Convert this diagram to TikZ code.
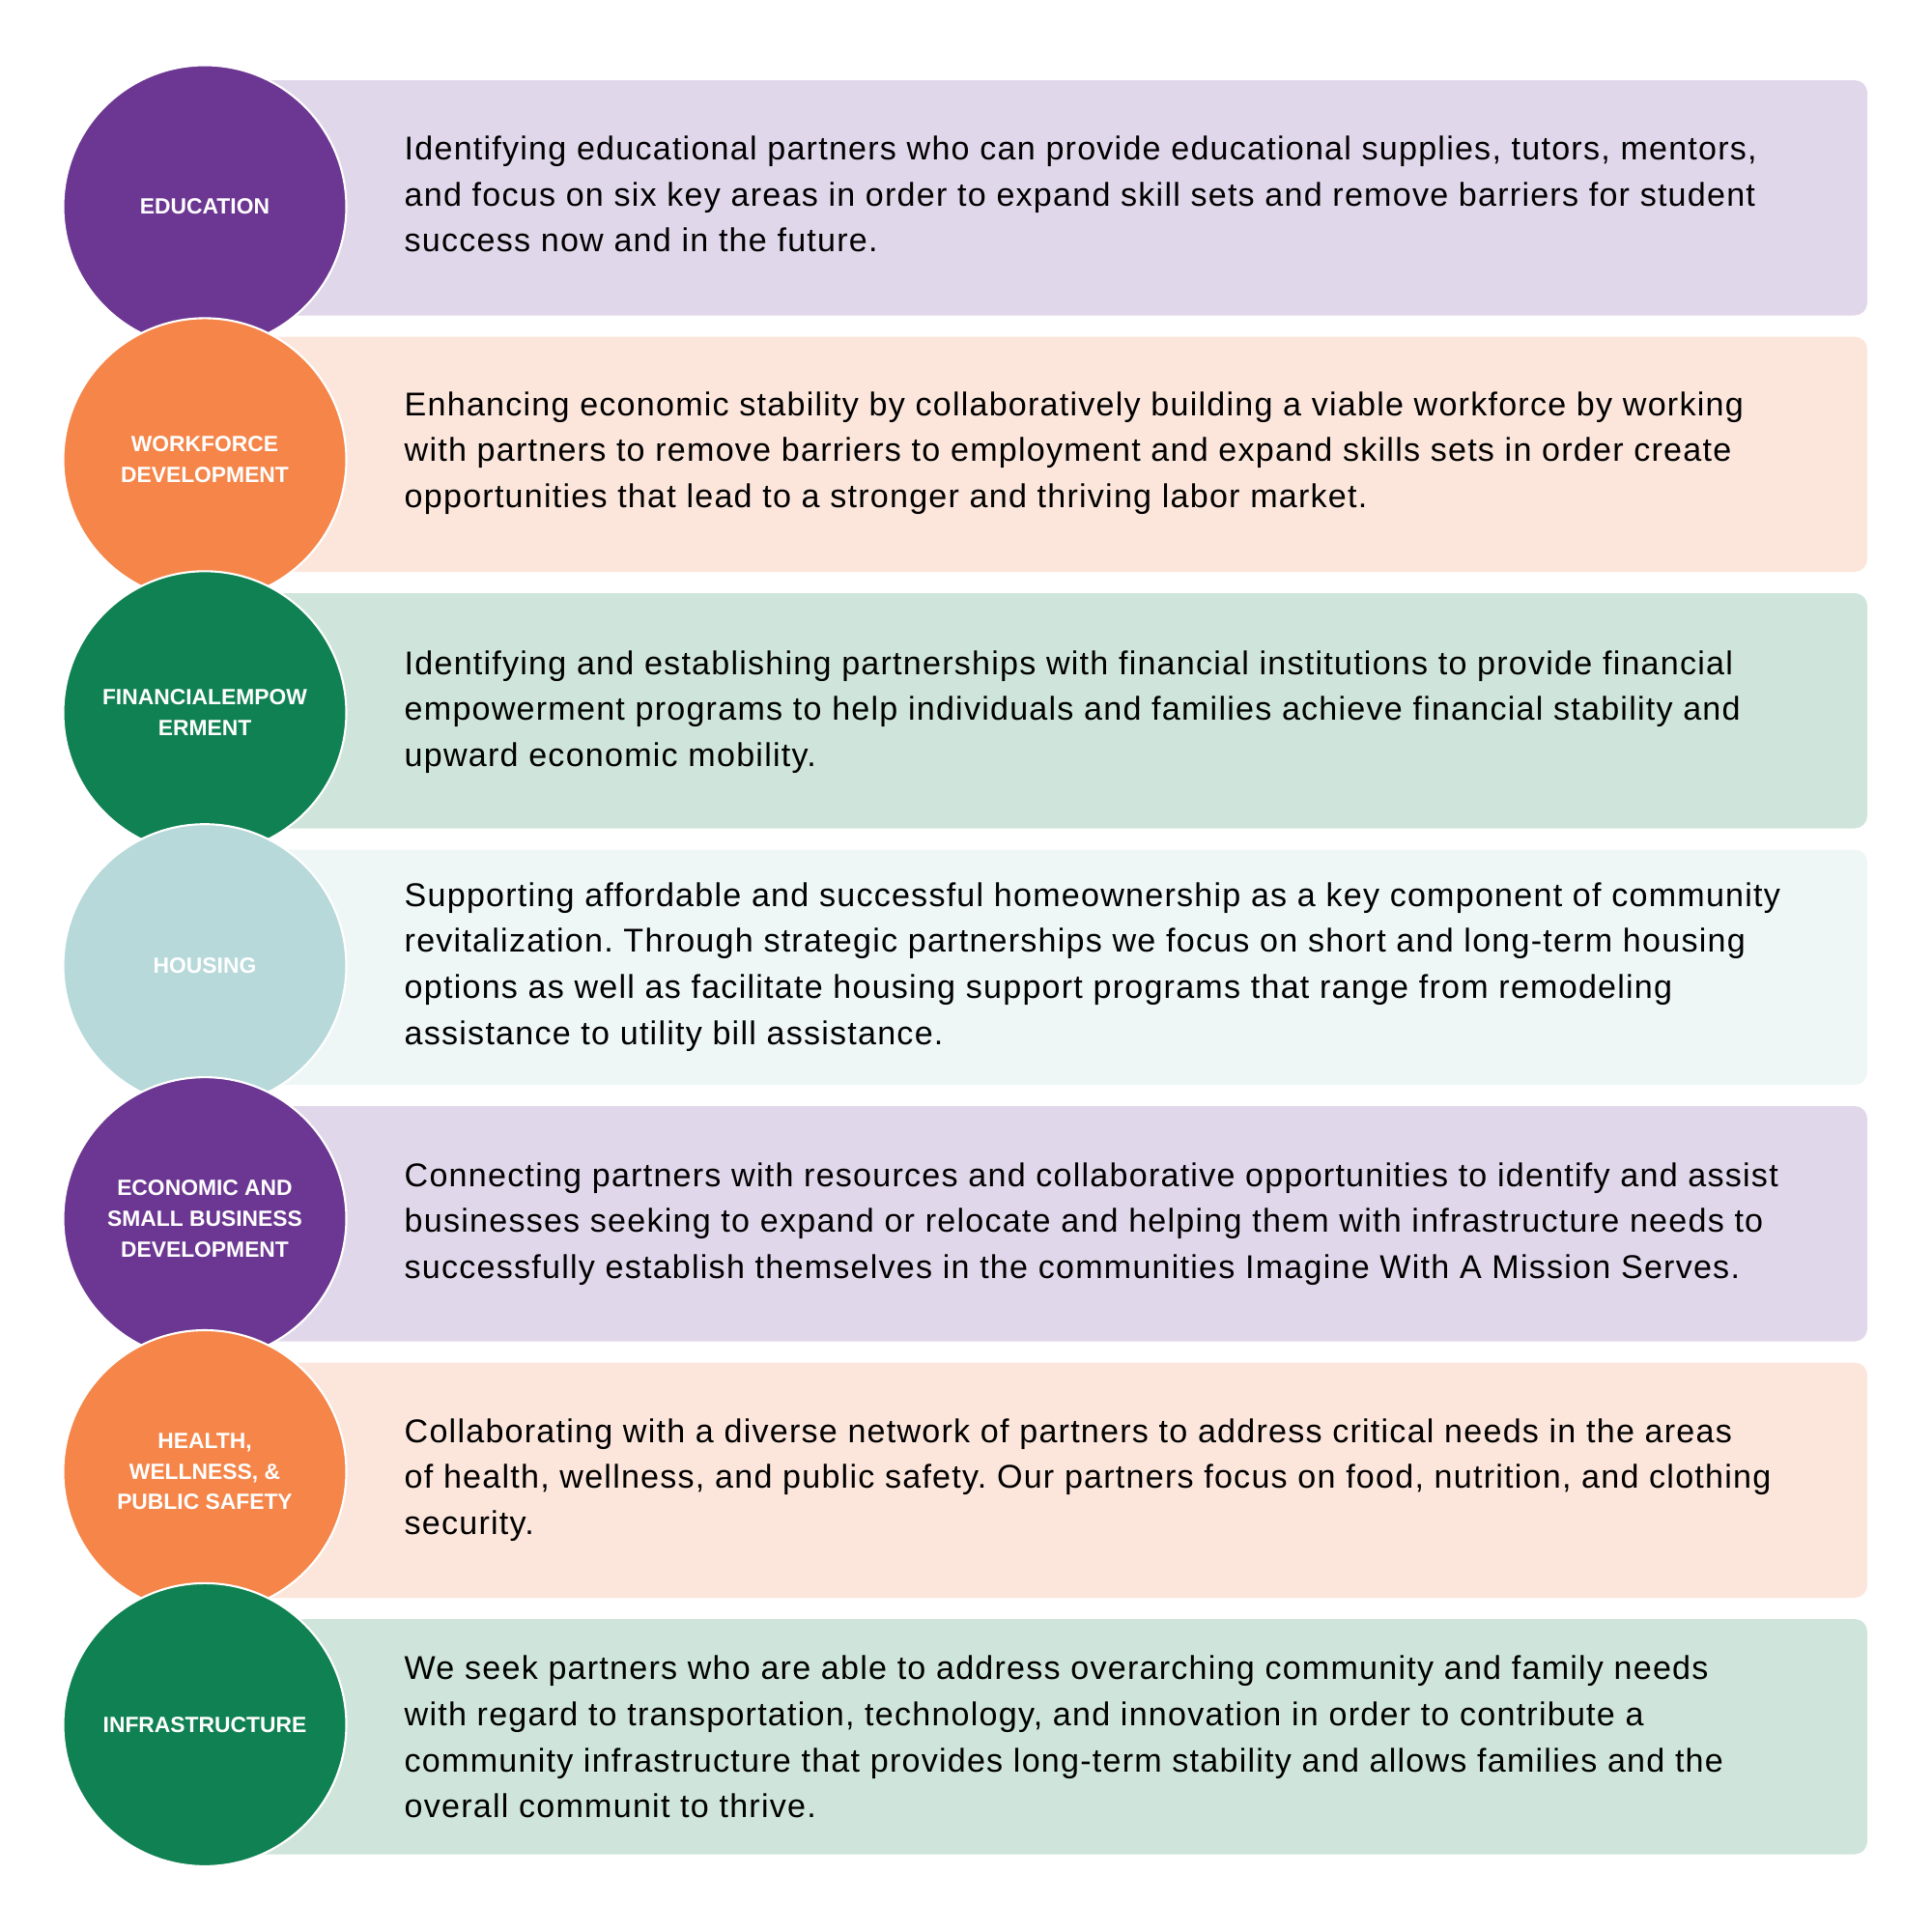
\documentclass[tikz,border=0pt]{standalone}
\usepackage{fontspec}
\setmainfont{Liberation Sans}
\newfontfamily\blurbfont[LetterSpace=3.6]{Liberation Sans}
\frenchspacing
\definecolor{plum}{HTML}{6C3792}
\definecolor{carrot}{HTML}{F58549}
\definecolor{pine}{HTML}{108152}
\definecolor{aqua}{HTML}{B7D9DA}
\definecolor{plumbg}{HTML}{E1D7EA}
\definecolor{carrotbg}{HTML}{FCE6DB}
\definecolor{pinebg}{HTML}{CFE5DC}
\definecolor{aquabg}{HTML}{EEF7F6}
\begin{document}
\begin{tikzpicture}[
    badge/.style={circle, draw=white, line width=0.6pt, minimum size=2.93cm, inner sep=0pt,
      text=white, align=center, font=\fontsize{6.5}{9}\selectfont\bfseries},
    blurb/.style={anchor=west, inner sep=0pt, align=left, font=\blurbfont\fontsize{9.7}{13.6}\selectfont},
    panel/.style={rounded corners=0.13cm}]
\useasboundingbox (0,0) rectangle (20,-20);

% panels
\fill[plumbg, panel]   (2.5,-0.83)  rectangle (19.33,-3.265);
\fill[carrotbg, panel] (2.5,-3.485) rectangle (19.33,-5.92);
\fill[pinebg, panel]   (2.5,-6.14)  rectangle (19.33,-8.575);
\fill[aquabg, panel]   (2.5,-8.795) rectangle (19.33,-11.23);
\fill[plumbg, panel]   (2.5,-11.45) rectangle (19.33,-13.885);
\fill[carrotbg, panel] (2.5,-14.105) rectangle (19.33,-16.54);
\fill[pinebg, panel]   (2.5,-16.76) rectangle (19.33,-19.195);

% badges
\node[badge, fill=plum]   (edu) at (2.12,-2.14)   {EDUCATION};
\node[badge, fill=carrot] (wfd) at (2.12,-4.759)  {WORKFORCE\\DEVELOPMENT};
\node[badge, fill=pine]   (fin) at (2.12,-7.378)  {FINANCIALEMPOW\\ERMENT};
\node[badge, fill=aqua]   (hsg) at (2.12,-9.997)  {HOUSING};
\node[badge, fill=plum]   (eco) at (2.12,-12.616) {ECONOMIC AND\\SMALL BUSINESS\\DEVELOPMENT};
\node[badge, fill=carrot] (hlt) at (2.12,-15.235) {HEALTH,\\WELLNESS, \&\\PUBLIC SAFETY};
\node[badge, fill=pine]   (inf) at (2.12,-17.854) {INFRASTRUCTURE};

% texts
\node[blurb] (edutxt) at (4.18,-2.01) {Identifying educational partners who can provide educational supplies, tutors, mentors,\\and focus on six key areas in order to expand skill sets and remove barriers for student\\success now and in the future.};
\node[blurb] (wfdtxt) at (4.18,-4.69) {Enhancing economic stability by collaboratively building a viable workforce by working\\with partners to remove barriers to employment and expand skills sets in order create\\opportunities that lead to a stronger and thriving labor market.};
\node[blurb] (fintxt) at (4.18,-7.37) {Identifying and establishing partnerships with financial institutions to provide financial\\empowerment programs to help individuals and families achieve financial stability and\\upward economic mobility.};
\node[blurb] (hsgtxt) at (4.18,-10.01) {Supporting affordable and successful homeownership as a key component of community\\revitalization. Through strategic partnerships we focus on short and long-term housing\\options as well as facilitate housing support programs that range from remodeling\\assistance to utility bill assistance.};
\node[blurb] (ecotxt) at (4.18,-12.67) {Connecting partners with resources and collaborative opportunities to identify and assist\\businesses seeking to expand or relocate and helping them with infrastructure needs to\\successfully establish themselves in the communities Imagine With A Mission Serves.};
\node[blurb] (hlttxt) at (4.18,-15.32) {Collaborating with a diverse network of partners to address critical needs in the areas\\of health, wellness, and public safety. Our partners focus on food, nutrition, and clothing\\security.};
\node[blurb] (inftxt) at (4.18,-17.98) {We seek partners who are able to address overarching community and family needs\\with regard to transportation, technology, and innovation in order to contribute a\\community infrastructure that provides long-term stability and allows families and the\\overall communit to thrive.};
\end{tikzpicture}
\end{document}
